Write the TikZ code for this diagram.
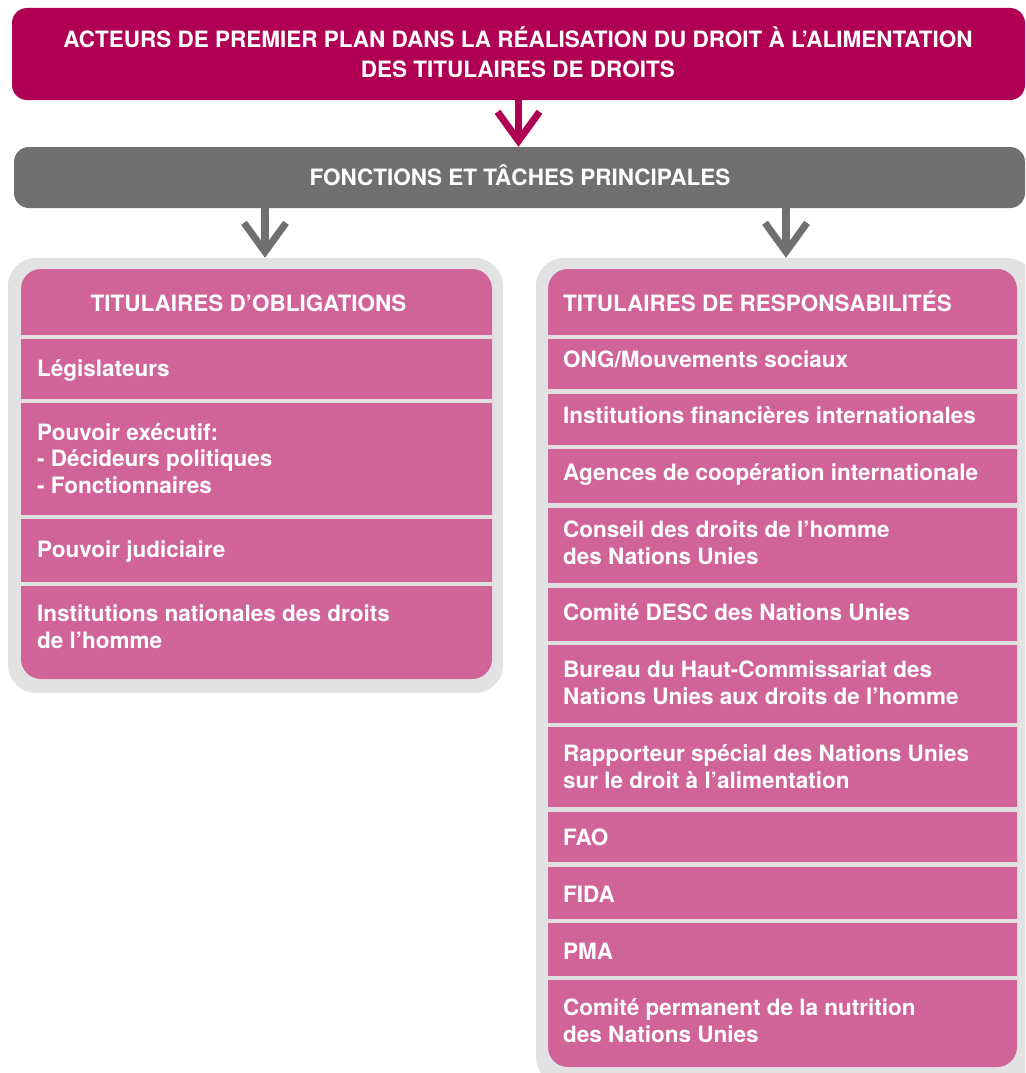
\documentclass[tikz,border=0pt]{standalone}
\usepackage{fontspec}
\setmainfont{TeX Gyre Heros}
\usetikzlibrary{arrows.meta}
\definecolor{mag}{RGB}{176,0,84}
\definecolor{pinkc}{RGB}{208,100,152}
\definecolor{barg}{RGB}{112,112,112}
\definecolor{frameg}{RGB}{226,226,226}
\definecolor{sepg}{RGB}{224,224,224}
\tikzset{
  box/.style={rectangle, inner sep=0pt, draw=none},
  topbox/.style={box, fill=mag, rounded corners=15pt},
  midbar/.style={box, fill=barg, rounded corners=15pt},
  framebox/.style={box, fill=frameg, rounded corners=28pt},
  pinkbox/.style={box, fill=pinkc, rounded corners=20pt},
  txt/.style={inner sep=0pt, text=white, align=left, font=\bfseries\fontsize{22.5}{27}\selectfont},
  rowtxt/.style={txt, anchor=base west},
  sepline/.style={draw=sepg, line width=4.5pt},
  magarrow/.style={draw=mag, line width=7pt, -{Straight Barb[sharp, length=29pt, width=42pt, line width=7pt]}},
  grayarrow/.style={draw=barg, line width=8pt, -{Straight Barb[sharp, length=29pt, width=42pt, line width=7pt]}},
}
\begin{document}
\begin{tikzpicture}[x=1pt, y=-1pt]
\useasboundingbox (0,0) rectangle (1025,1073);
\clip (0,0) rectangle (1025,1073);
\fill[white] (0,0) rectangle (1025,1073);

% top box
\node[topbox, minimum width=1013pt, minimum height=92pt] (top) at (518.5,54) {};
\node[txt, align=center, anchor=base, font=\bfseries\fontsize{22.5}{30}\selectfont] (toptxt) at (518,77.7)
  {ACTEURS DE PREMIER PLAN DANS LA RÉALISATION DU DROIT À L’ALIMENTATION\\DES TITULAIRES DE DROITS};

% middle bar
\node[midbar, minimum width=1011pt, minimum height=61pt] (mid) at (519.5,177.5) {};
\node[txt, anchor=base] (midtxt) at (520,185) {FONCTIONS ET TÂCHES PRINCIPALES};

% left frame
\node[framebox, minimum width=495pt, minimum height=435pt] (lframe) at (255.5,475.5) {};
\node[pinkbox, minimum width=471pt, minimum height=410pt] (lpink) at (256.5,474) {};
\foreach \y in {337,401,517,584} \draw[sepline] (21,\y) -- (492,\y);

% right frame
\node[framebox, minimum width=499pt, minimum height=827pt] (rframe) at (785.5,671.5) {};
\node[pinkbox, minimum width=469pt, minimum height=798pt] (rpink) at (782.5,668) {};
\foreach \y in {337,391.5,447,505.5,585.5,643,725,809.5,864.5,921,978} \draw[sepline] (548,\y) -- (1017,\y);

% arrows
\coordinate (la) at (265,0);
\coordinate (ra) at (786,0);
\draw[magarrow] (top.south) -- (top.south |- mid.north);
\draw[grayarrow] (mid.south -| la) -- (lframe.north -| la);
\draw[grayarrow] (mid.south -| ra) -- (rframe.north -| ra);

% left texts (multi-line nodes: base = last line)
\node[txt, anchor=base] (lhead) at (248.5,311) {TITULAIRES D’OBLIGATIONS};
\node[rowtxt] (l1) at (37,376) {Législateurs};
\node[rowtxt, font=\bfseries\fontsize{22.5}{26.5}\selectfont] (l2) at (37,493) {Pouvoir exécutif:\\- Décideurs politiques\\- Fonctionnaires};
\node[rowtxt] (l3) at (37,557) {Pouvoir judiciaire};
\node[rowtxt] (l4) at (37,648) {Institutions nationales des droits\\de l’homme};

% right texts
\node[rowtxt] (rhead) at (563,311) {TITULAIRES DE RESPONSABILITÉS};
\node[rowtxt] (r1) at (563,367.7) {ONG/Mouvements sociaux};
\node[rowtxt] (r2) at (563,423) {Institutions financières internationales};
\node[rowtxt] (r3) at (563,480) {Agences de coopération internationale};
\node[rowtxt] (r4) at (563,564) {Conseil des droits de l’homme\\des Nations Unies};
\node[rowtxt] (r5) at (563,620.7) {Comité DESC des Nations Unies};
\node[rowtxt] (r6) at (563,704.5) {Bureau du Haut-Commissariat des\\Nations Unies aux droits de l’homme};
\node[rowtxt] (r7) at (563,788.7) {Rapporteur spécial des Nations Unies\\sur le droit à l’alimentation};
\node[rowtxt] (r8) at (563,845.7) {FAO};
\node[rowtxt] (r9) at (563,902) {FIDA};
\node[rowtxt] (r10) at (563,959) {PMA};
\node[rowtxt] (r11) at (563,1042) {Comité permanent de la nutrition\\des Nations Unies};
\end{tikzpicture}
\end{document}
